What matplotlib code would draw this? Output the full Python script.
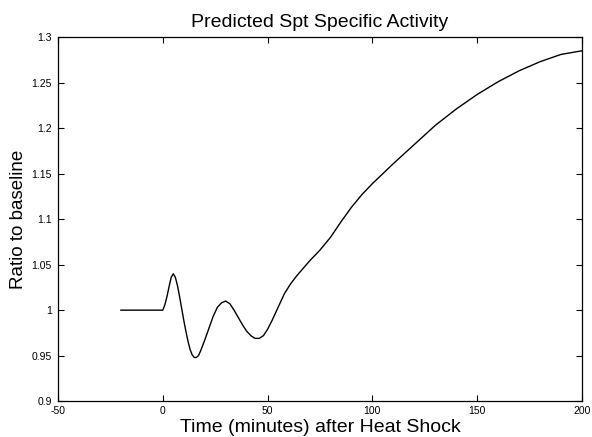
import matplotlib
matplotlib.use('Agg')
import matplotlib.pyplot as plt
import numpy as np

# time (minutes) after heat shock and predicted ratio to baseline
time_min = [-20, -10, 0, 1, 2, 3, 4, 5, 6, 7, 8, 9, 10, 11, 12, 13, 14, 15,
            16, 17, 18, 19, 20, 22, 24, 26, 28, 30, 32, 34, 36, 38, 40, 42,
            44, 46, 48, 50, 52, 55, 58, 61, 64, 67, 70, 75, 80, 85, 90, 95,
            100, 110, 120, 130, 140, 150, 160, 170, 180, 190, 200]
ratio = [1.0, 1.0, 1.0, 1.006, 1.015, 1.026, 1.036, 1.040, 1.036, 1.027,
         1.015, 1.002, 0.989, 0.977, 0.966, 0.957, 0.951, 0.948, 0.948,
         0.950, 0.955, 0.961, 0.967, 0.980, 0.993, 1.003, 1.008, 1.010,
         1.007, 1.000, 0.992, 0.984, 0.977, 0.972, 0.969, 0.969, 0.972,
         0.979, 0.988, 1.003, 1.018, 1.029, 1.038, 1.046, 1.054, 1.066,
         1.080, 1.097, 1.113, 1.127, 1.139, 1.161, 1.182, 1.203, 1.221,
         1.237, 1.251, 1.263, 1.273, 1.281, 1.285]

xticks = [-50, 0, 50, 100, 150, 200]
yticks = [0.9, 0.95, 1.0, 1.05, 1.1, 1.15, 1.2, 1.25, 1.3]
ytick_labels = ['0.9', '0.95', '1', '1.05', '1.1', '1.15', '1.2', '1.25', '1.3']

plt.rcParams['font.family'] = ['Liberation Sans', 'DejaVu Sans']

fig = plt.figure(figsize=(5.92, 4.37), dpi=100)
ax = fig.add_axes([0.098, 0.082, 0.885, 0.833])
ax.plot(time_min, ratio, color='black', linewidth=1.0)

ax.set_xlim(-50, 200)
ax.set_ylim(0.9, 1.3)
ax.set_xticks(xticks)
ax.set_xticklabels([str(t) for t in xticks])
ax.set_yticks(yticks)
ax.set_yticklabels(ytick_labels)
ax.tick_params(direction='in', top=True, right=True, length=4, width=0.8,
               labelsize=7.5)
ax.tick_params(axis='x', pad=3.5)
ax.tick_params(axis='y', pad=4.5)
for s in ax.spines.values():
    s.set_linewidth(0.9)

ax.set_title('Predicted Spt Specific Activity', fontsize=14, pad=7)
ax.set_xlabel('Time (minutes) after Heat Shock', fontsize=14, labelpad=2.5)
ax.set_ylabel('Ratio to baseline', fontsize=13.5, labelpad=3)

fig.savefig('out.png', dpi=100)
